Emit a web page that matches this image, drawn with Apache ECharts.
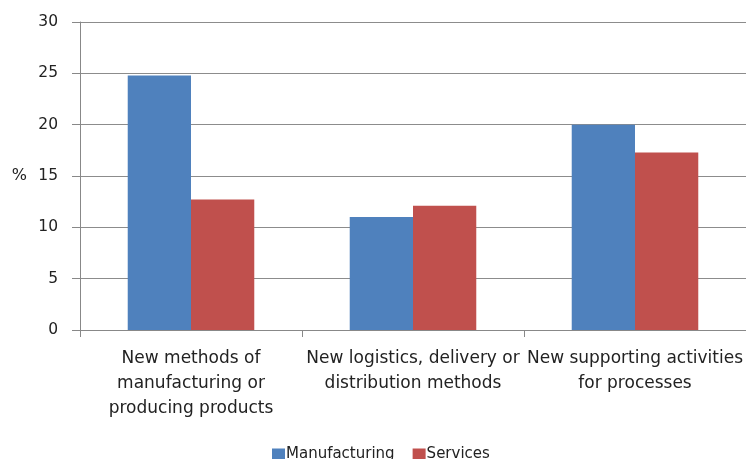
<!DOCTYPE html>
<html>
<head>
<meta charset="utf-8">
<script src="https://cdn.jsdelivr.net/npm/echarts@6/dist/echarts.min.js"></script>
<style>html,body{margin:0;padding:0;background:#fff;}#chart{width:746px;height:459px;}</style>
</head>
<body>
<div id="chart"></div>
<script>
var categories = ["New methods of\nmanufacturing or\nproducing products", "New logistics, delivery or\ndistribution methods", "New supporting activities\nfor processes"];
var manufacturing = [24.8, 11.0, 20.0];
var services = [12.7, 12.1, 17.3];
var yTicks = [0, 5, 10, 15, 20, 25, 30];

var chart = echarts.init(document.getElementById('chart'));
var font = 'DejaVu Sans';
chart.setOption({
  animation: false,
  textStyle: {fontFamily: font},
  grid: {left: 80, top: 22, width: 667, bottom: 129, containLabel: false},
  legend: {
    bottom: -8, left: 267,
    itemWidth: 13, itemHeight: 12, itemGap: 18,
    icon: 'rect',
    textStyle: {fontFamily: font, fontSize: 15, color: '#222', padding: [0,0,0,-4]},
    data: ['Manufacturing', 'Services']
  },
  xAxis: {
    type: 'category',
    data: categories,
    axisLine: {lineStyle: {color: '#888', width: 1}},
    axisTick: {show: true, length: 7, lineStyle: {color: '#888'}},
    axisLabel: {interval: 0, fontSize: 17, lineHeight: 25, color: '#222', margin: 16}
  },
  yAxis: {
    type: 'value',
    min: yTicks[0], max: yTicks[yTicks.length - 1], interval: 5,
    name: '%', nameLocation: 'middle', nameRotate: 0, nameGap: 53,
    nameTextStyle: {fontSize: 16, color: '#222'},
    axisLine: {show: true, lineStyle: {color: '#888', width: 1}},
    axisTick: {show: true, length: 8, lineStyle: {color: '#888'}},
    axisLabel: {fontSize: 15.5, color: '#222', margin: 22},
    splitLine: {lineStyle: {color: '#8c8c8c', width: 1}}
  },
  series: [
    {name: 'Manufacturing', type: 'bar', data: manufacturing, itemStyle: {color: '#4F81BD'}, barGap: '0%', barCategoryGap: '43%'},
    {name: 'Services', type: 'bar', data: services, itemStyle: {color: '#C0504D'}, barGap: '0%', barCategoryGap: '43%'}
  ]
});
</script>
</body>
</html>
